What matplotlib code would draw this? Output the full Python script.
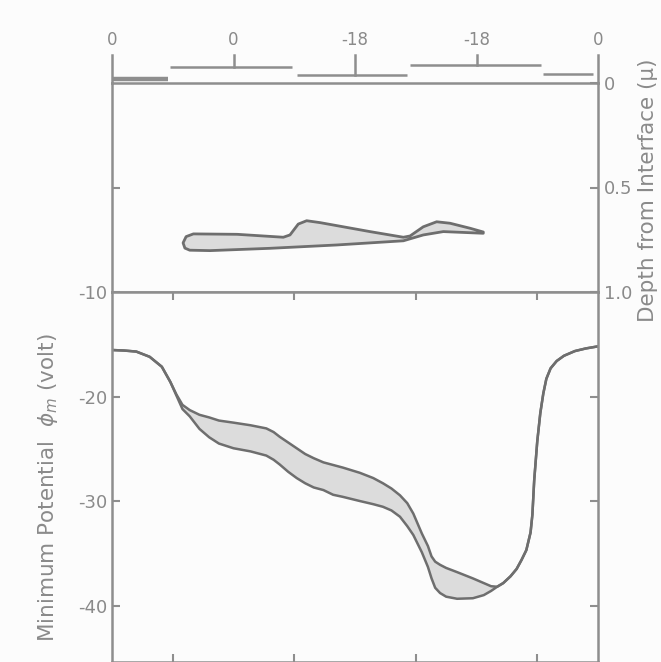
import numpy as np
import matplotlib
matplotlib.use("Agg")
import matplotlib.pyplot as plt

# ---------------- data ----------------
# doping-profile strip (top): segment start, end, relative level, and region labels
seg_start = [0.00, 0.48, 1.52, 2.45, 3.55]
seg_end = [0.46, 1.48, 2.43, 3.53, 3.96]
seg_level = [4.5, 15.7, 8.0, 18.0, 8.7]
region_x = [0, 1, 2, 3, 4]
region_labels = ["0", "0", "-18", "-18", "0"]

# depth-of-minimum loop (top panel), depth in micron
loop_x_upper = [0.585, 0.61, 0.67, 1.03, 1.41, 1.465, 1.533, 1.602, 1.712, 2.123, 2.398,
                2.453, 2.562, 2.672, 2.782, 2.947, 3.056]
loop_d_upper = [0.765, 0.735, 0.722, 0.724, 0.738, 0.727, 0.675, 0.659, 0.668, 0.711, 0.738,
                0.732, 0.688, 0.664, 0.671, 0.695, 0.713]
loop_x_lower = [3.056, 2.727, 2.562, 2.398, 1.849, 1.30, 0.807, 0.64, 0.60]
loop_d_lower = [0.719, 0.711, 0.727, 0.755, 0.775, 0.791, 0.802, 0.800, 0.790]

# minimum potential (bottom panel), volt
pot_x = [0.00, 0.10, 0.20, 0.31, 0.41, 0.48, 0.53, 0.58, 0.64, 0.72, 0.80, 0.88, 1.00, 1.14,
         1.27, 1.33, 1.38, 1.45, 1.52, 1.59, 1.66, 1.74, 1.82, 1.90, 2.04, 2.15, 2.23, 2.30,
         2.37, 2.43, 2.48, 2.55, 2.60, 2.63, 2.66, 2.70, 2.75, 2.84, 2.97, 3.06, 3.12, 3.17,
         3.22, 3.28, 3.33, 3.37, 3.41, 3.445, 3.46, 3.475, 3.50, 3.525, 3.55, 3.575, 3.61,
         3.66, 3.72, 3.81, 3.90, 4.00]
pot_upper = [-15.55, -15.6, -15.7, -16.2, -17.15, -18.6, -19.8, -20.8, -21.3, -21.75, -22.0,
             -22.3, -22.5, -22.75, -23.05, -23.4, -23.85, -24.4, -24.95, -25.5, -25.9, -26.3,
             -26.55, -26.8, -27.3, -27.8, -28.3, -28.8, -29.45, -30.2, -31.2, -33.1, -34.3,
             -35.3, -35.8, -36.1, -36.4, -36.8, -37.4, -37.85, -38.15, -38.2, -37.85, -37.2,
             -36.5, -35.65, -34.7, -33.0, -31.3, -28.0, -24.3, -21.6, -19.7, -18.3, -17.3,
             -16.6, -16.1, -15.65, -15.4, -15.2]
pot_lower = [-15.55, -15.6, -15.7, -16.2, -17.15, -18.6, -19.9, -21.2, -21.9, -23.1, -23.9,
             -24.5, -24.95, -25.25, -25.65, -26.05, -26.5, -27.2, -27.8, -28.3, -28.7, -28.95,
             -29.4, -29.6, -30.0, -30.3, -30.55, -30.9, -31.5, -32.4, -33.25, -34.9, -36.3,
             -37.4, -38.3, -38.8, -39.15, -39.35, -39.3, -39.0, -38.6, -38.2, -37.85, -37.2,
             -36.5, -35.65, -34.7, -33.0, -31.3, -28.0, -24.3, -21.6, -19.7, -18.3, -17.3,
             -16.6, -16.1, -15.65, -15.4, -15.2]

pot_yticks = [-10, -20, -30, -40]
depth_ticks = [0, 0.5, 1.0]
depth_ticklabels = ["0", "0.5", "1.0"]
x_ticks = [0.5, 1.5, 2.5, 3.5]

# ---------------- style ----------------
LINE = "#6e6e6e"
AXC = "#8e8e8e"
TXT = "#8a8a8a"
FILL = "#dcdcdc"
BG = "#fcfcfc"

W, H = 661, 662
fig = plt.figure(figsize=(W / 100, H / 100), dpi=100, facecolor=BG)


def box(x0, y0, x1, y1):
    return [x0 / W, 1 - y1 / H, (x1 - x0) / W, (y1 - y0) / H]


ax_top = fig.add_axes(box(112, 83, 598, 292))
ax_bot = fig.add_axes(box(112, 292, 598, 662))
ax_strip = fig.add_axes(box(112, 15, 598, 83))

for ax in (ax_top, ax_bot):
    ax.set_facecolor(BG)
    for s in ax.spines.values():
        s.set_color(AXC)
        s.set_linewidth(1.8)
    ax.set_xlim(0, 4)
    ax.tick_params(colors=AXC, labelcolor=TXT, direction="in", length=6, width=1.5,
                   labelsize=13)

# ---- strip ----
ax_strip.set_xlim(0, 4)
ax_strip.set_ylim(0, 68)
ax_strip.axis("off")
for i, (a, b, lv) in enumerate(zip(seg_start, seg_end, seg_level)):
    ax_strip.plot([a, b], [lv, lv], color=AXC, lw=3.2 if i == 0 else 1.8,
                  solid_capstyle="butt", clip_on=False)
for i, (xx, lab) in enumerate(zip(region_x, region_labels)):
    y0 = 0 if i in (0, len(region_x) - 1) else [lv for a, b, lv in
                                                 zip(seg_start, seg_end, seg_level)
                                                 if a <= xx <= b][0]
    ax_strip.plot([xx, xx], [y0, 28], color=AXC, lw=1.8, clip_on=False)
    ax_strip.text(xx, 43, lab, ha="center", va="center", color=TXT, fontsize=12,
                  clip_on=False)

# ---- top panel: depth ----
ax_top.set_ylim(1.0, 0)
ax_top.set_xticks([])
ax_top.set_yticks([0.5])
ax_top.set_yticklabels([])
ax_top.tick_params(axis="y", left=True, right=False)
ax_r = ax_top.twinx()
ax_r.set_ylim(1.0, 0)
ax_r.set_yticks(depth_ticks)
ax_r.set_yticklabels(depth_ticklabels)
ax_r.tick_params(colors=AXC, labelcolor=TXT, direction="in", length=6, width=1.5,
                 labelsize=13, pad=4)
for s in ax_r.spines.values():
    s.set_visible(False)
lx = loop_x_upper + loop_x_lower
ld = loop_d_upper + loop_d_lower
ax_top.fill(lx, ld, facecolor=FILL, edgecolor=LINE, lw=2.0, joinstyle="round")

# ---- bottom panel: potential ----
ax_bot.set_ylim(-45.4, -10)
ax_bot.set_yticks(pot_yticks)
ax_bot.set_yticklabels([str(v) for v in pot_yticks])
ax_bot.set_xticks(x_ticks)
ax_bot.set_xticklabels([])
ax_bot.tick_params(axis="x", top=True, bottom=True)
ax_bot.tick_params(axis="y", left=True, right=True)
ax_bot.fill_between(pot_x, pot_upper, pot_lower, color=FILL, lw=0)
ax_bot.plot(pot_x, pot_upper, color=LINE, lw=1.8, solid_joinstyle="round")
ax_bot.plot(pot_x, pot_lower, color=LINE, lw=1.8, solid_joinstyle="round")

# axis titles
fig.text(48 / W, 1 - 488 / H, "Minimum Potential  $\\phi_m$ (volt)", rotation=90,
         ha="center", va="center", color=TXT, fontsize=15.5)
fig.text(648 / W, 1 - 190 / H, "Depth from Interface (μ)", rotation=90,
         ha="center", va="center", color=TXT, fontsize=15.5)

fig.savefig("out.png", dpi=100, facecolor=BG)
